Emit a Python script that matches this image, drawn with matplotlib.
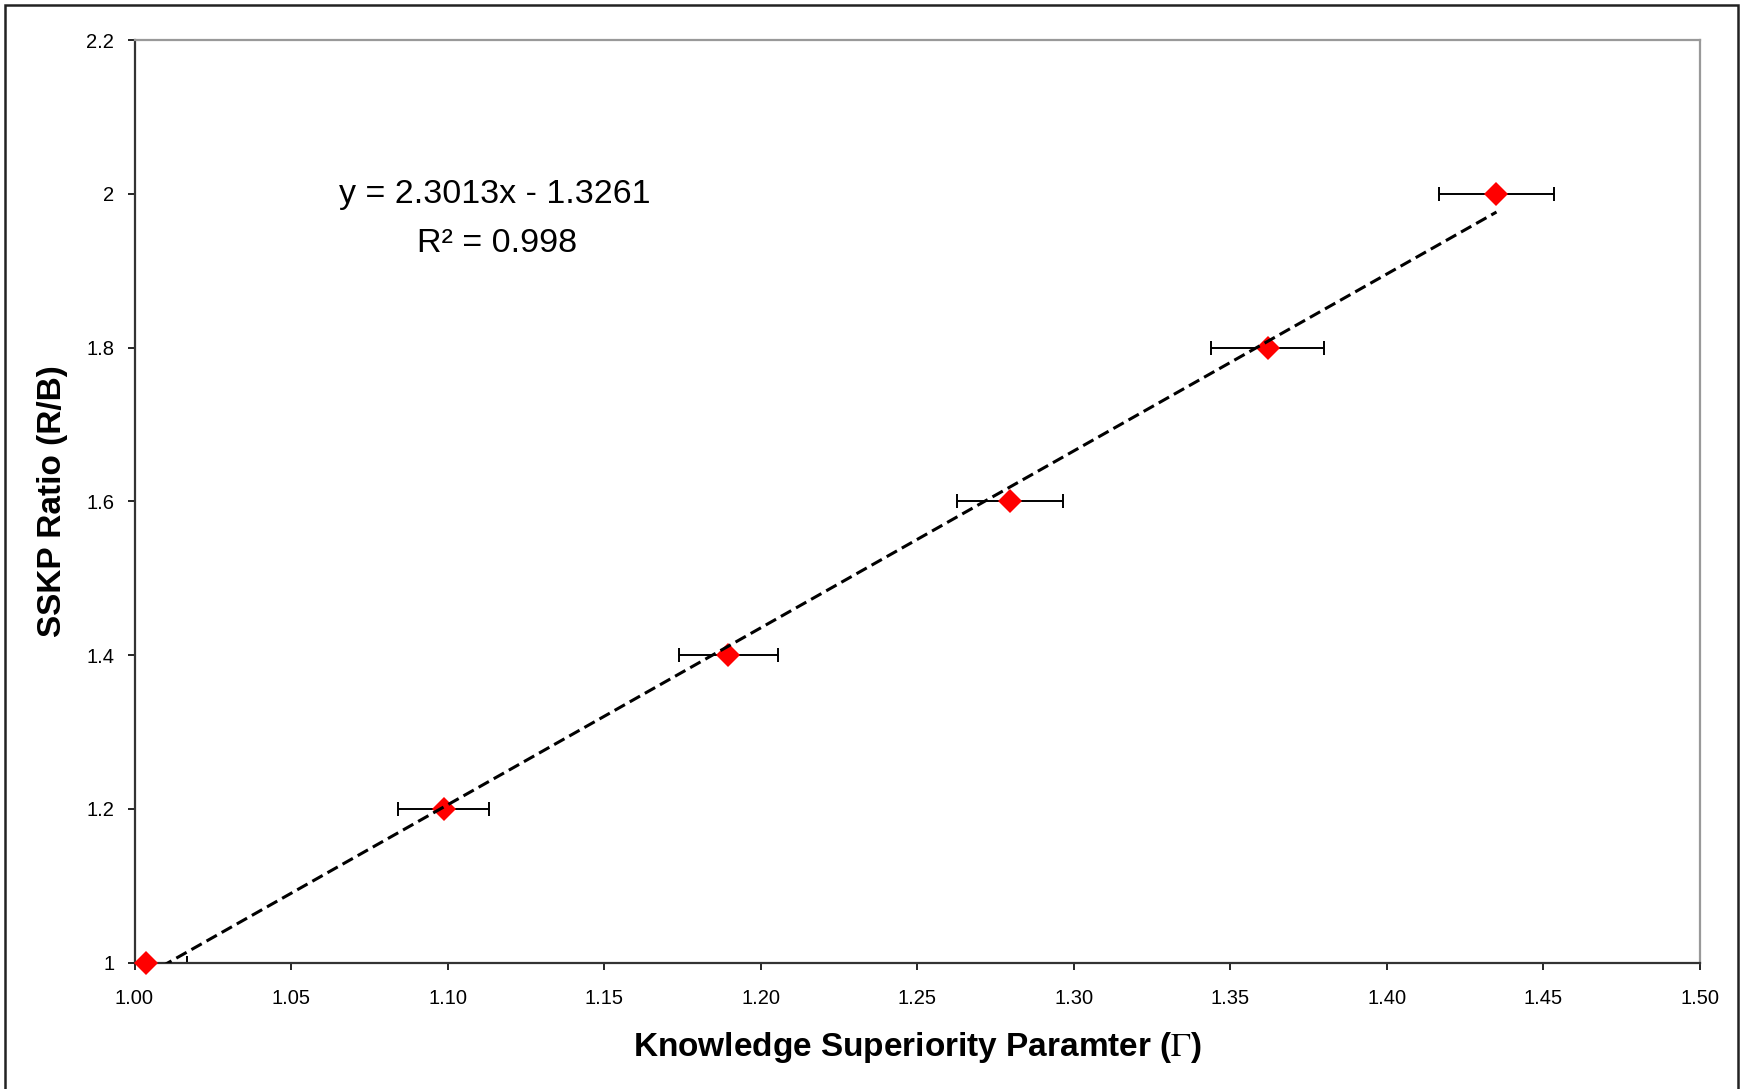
import matplotlib
matplotlib.use("Agg")
import matplotlib.pyplot as plt
from matplotlib.patches import Rectangle
import numpy as np

# ---- data ----
gamma = [1.0037, 1.0987, 1.1896, 1.2795, 1.3619, 1.4350]
ratio = [1.0, 1.2, 1.4, 1.6, 1.8, 2.0]
gamma_err = [0.0130, 0.0144, 0.0158, 0.0169, 0.0180, 0.0185]
slope = 2.3013
intercept = -1.3261
r_squared = 0.998
x_ticks = [1.00, 1.05, 1.10, 1.15, 1.20, 1.25, 1.30, 1.35, 1.40, 1.45, 1.50]
x_tick_labels = ["1.00", "1.05", "1.10", "1.15", "1.20", "1.25", "1.30", "1.35", "1.40", "1.45", "1.50"]
y_ticks = [1.0, 1.2, 1.4, 1.6, 1.8, 2.0, 2.2]
y_tick_labels = ["1", "1.2", "1.4", "1.6", "1.8", "2", "2.2"]

plt.rcParams['font.family'] = ['Liberation Sans', 'DejaVu Sans']
plt.rcParams['mathtext.fontset'] = 'stix'
plt.rcParams['lines.scale_dashes'] = False

W, H = 1743, 1089
fig = plt.figure(figsize=(W / 100, H / 100), dpi=100)
ax = fig.add_axes([134.5 / W, 1 - 962.7 / H, (1700 - 134.5) / W, (962.7 - 40) / H])

# error bars (clipped at axes)
ax.errorbar(gamma, ratio, xerr=gamma_err, fmt='none', ecolor='black',
            elinewidth=1.4, capsize=4.7, capthick=1.4, zorder=2)
# markers
ax.plot(gamma, ratio, linestyle='none', marker='D', markersize=12,
        color='#ff0000', markeredgewidth=0, clip_on=False, zorder=3)
# trend line
xt = np.array([min(gamma), max(gamma)])
ax.plot(xt, slope * xt + intercept, color='black', linewidth=2.2,
        linestyle=(0, (8.5, 4)), zorder=4)

ax.set_xlim(1.0, 1.5)
ax.set_ylim(1.0, 2.2)
ax.set_xticks(x_ticks)
ax.set_xticklabels(x_tick_labels)
ax.set_yticks(y_ticks)
ax.set_yticklabels(y_tick_labels)
ax.tick_params(axis='both', direction='out', length=5, width=1.2,
               labelsize=14.5, colors='black')
ax.tick_params(axis='x', pad=14)
ax.tick_params(axis='y', pad=9.5)

for s in ['left', 'bottom']:
    ax.spines[s].set_color('#333333')
    ax.spines[s].set_linewidth(1.6)
for s in ['top', 'right']:
    ax.spines[s].set_color('#999999')
    ax.spines[s].set_linewidth(1.6)

ax.set_xlabel(r"Knowledge Superiority Paramter ($\Gamma$)", fontsize=24,
              fontweight='bold', labelpad=16)
ax.set_ylabel("SSKP Ratio (R/B)", fontsize=24, fontweight='bold', labelpad=13)

sign = '-' if intercept < 0 else '+'
ax.text(495 / W, 1 - 194 / H, f"y = {slope}x {sign} {abs(intercept)}",
        transform=fig.transFigure, ha='center', va='center', fontsize=24.5)
ax.text(497 / W, 1 - 244 / H, f"R\u00b2 = {r_squared}",
        transform=fig.transFigure, ha='center', va='center', fontsize=24.5)

# outer chart border
fig.add_artist(Rectangle((5 / W, -0.02), (1738 - 5) / W, 1 - 5 / H + 0.02,
                         transform=fig.transFigure, fill=False,
                         edgecolor='#222222', linewidth=1.8))

fig.savefig("out.png", dpi=100)
